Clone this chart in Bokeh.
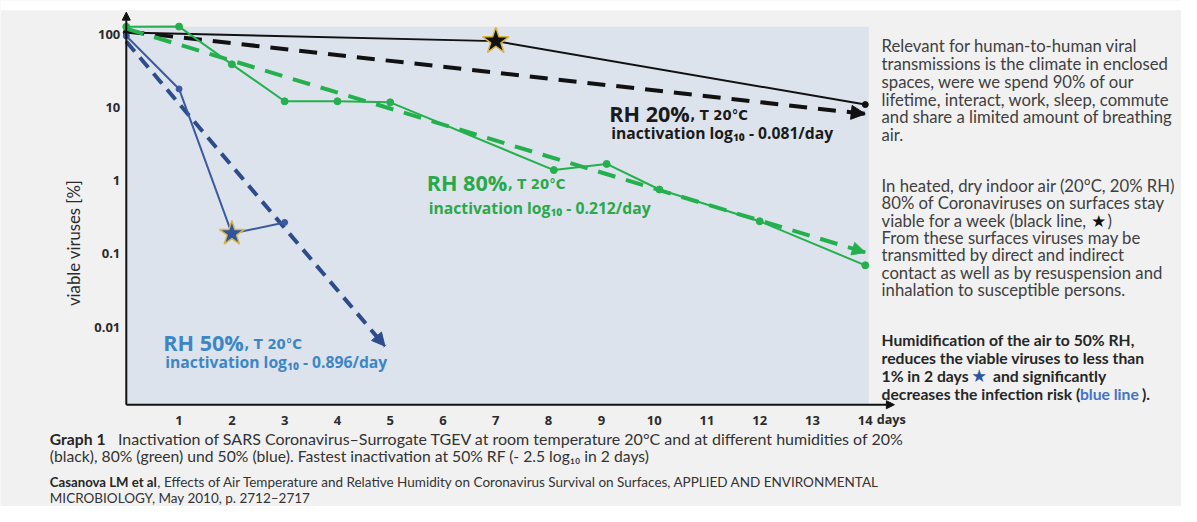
import math
from bokeh.plotting import figure
from bokeh.models import (Range1d, FixedTicker, CustomJSTickFormatter, BoxAnnotation,
                          Label, Arrow, NormalHead, LinearAxis, LogAxis)
from bokeh.embed import file_html
from bokeh.resources import INLINE

# ---------------- data ----------------
days_20 = [0, 7, 14]
viable_20 = [106, 81, 11]
trend_days_20 = [0, 14]
trend_20 = [110, 8.2]

days_80 = [0, 1, 2, 3, 4, 5, 8.1, 9.1, 10.1, 12, 14]
viable_80 = [127, 128, 39, 12.2, 12.2, 11.8, 1.4, 1.7, 0.76, 0.28, 0.07]
trend_days_80 = [0, 14]
trend_80 = [120, 0.105]

days_50 = [0, 1, 2, 3]
viable_50 = [95, 18, 0.19, 0.27]
trend_days_50 = [0, 4.9]
trend_50 = [80, 0.0055]

x_ticks = list(range(1, 15))
y_ticks = [0.01, 0.1, 1, 10, 100]
y_tick_labels = ["0.01", "0.1", "1", "10", "100"]

para1 = ["Relevant for human-to-human viral",
         "transmissions is the climate in enclosed",
         "spaces, were we spend 90% of our",
         "lifetime, interact, work, sleep, commute",
         "and share a limited amount of breathing",
         "air."]
para2 = ["In heated, dry indoor air (20°C, 20% RH)",
         "80% of Coronaviruses on surfaces stay",
         "viable for a week (black line,",
         "From these surfaces viruses may be",
         "transmitted by direct and indirect",
         "contact as well as by resuspension and",
         "inhalation to susceptible persons."]
para3 = ["Humidification of the air to 50% RH,",
         "reduces the viable viruses to less than",
         "1% in 2 days",
         "decreases the infection risk ("]

# ---------------- layout helpers (reference-pixel space) ----------------
W, H = 1181, 506
RW, RH = 1197, 522        # reference picture size
X0, DX = 127.5, 53.5      # px of day 0, px per day
Y100, DY = 35.0, 75.5     # px of 100 %, px per decade
FS = 0.98                 # font scale (canvas vs reference)


def dx(px):
    return (px - X0) / DX


def dy(py):
    return 10 ** (2 - (py - Y100) / DY)


BG = "#f1f1f1"
PLOT_BG = "#dce3ec"
BLACK = "#111111"
GREEN = "#25b04e"
GREEN_T = "#2aa84a"
BLUE_L = "#3b5a9f"
BLUE_D = "#2d4c8c"
BLUE_T = "#3d86c6"
TXT = "#404040"

p = figure(width=W, height=H, x_range=Range1d(dx(0), dx(RW)),
           y_range=Range1d(dy(RH), dy(0)), y_axis_type="log",
           x_axis_location=None, y_axis_location=None,
           output_backend="svg", toolbar_location=None, min_border=0)
p.min_border_left = p.min_border_right = p.min_border_top = p.min_border_bottom = 0
p.background_fill_color = BG
p.border_fill_color = BG
p.outline_line_color = None
p.xgrid.visible = False
p.ygrid.visible = False

AXIS_Y = dy(417)
xa = LinearAxis(fixed_location=AXIS_Y, ticker=FixedTicker(ticks=x_ticks))
ya = LogAxis(fixed_location=0, ticker=FixedTicker(ticks=y_ticks),
             formatter=CustomJSTickFormatter(code="return String(tick);"))
ya.major_label_overrides = dict(zip(y_ticks, y_tick_labels))
for ax in (xa, ya):
    ax.axis_line_color = None
    ax.major_tick_in = 0
    ax.major_tick_out = 0
    ax.minor_tick_in = 0
    ax.minor_tick_out = 0
    ax.major_label_text_font = "Open Sans"
    ax.major_label_text_font_style = "bold"
    ax.major_label_text_font_size = "13px"
    ax.major_label_text_color = "#2b2b2b"
ya.major_label_standoff = 6
xa.major_label_standoff = 11
p.add_layout(xa, "below")
p.add_layout(ya, "left")

# white strip at the very top, plot-area shading
p.add_layout(BoxAnnotation(top=dy(0), bottom=dy(10), fill_color="white",
                           fill_alpha=1, line_color=None, level="underlay"))
p.add_layout(BoxAnnotation(left=0, right=dx(880), bottom=AXIS_Y, top=dy(27),
                           fill_color=PLOT_BG, fill_alpha=1, line_color=None,
                           level="underlay"))

# axis lines with arrow heads
p.add_layout(Arrow(x_start=0, y_start=AXIS_Y, x_end=0, y_end=dy(12),
                   line_color=BLACK, line_width=2,
                   end=NormalHead(size=8, fill_color=BLACK, line_color=BLACK)))
p.add_layout(Arrow(x_start=0, y_start=AXIS_Y, x_end=dx(906), y_end=AXIS_Y,
                   line_color=BLACK, line_width=2,
                   end=NormalHead(size=8, fill_color=BLACK, line_color=BLACK)))

# ---- RH 20 % (black)
p.line(trend_days_20, trend_20, line_color=BLACK, line_width=4, line_dash="18 11")
p.add_layout(Arrow(x_start=trend_days_20[0], y_start=trend_20[0],
                   x_end=trend_days_20[-1], y_end=trend_20[-1], line_color=None,
                   end=NormalHead(size=14, fill_color=BLACK, line_color=BLACK)))
p.line(days_20, viable_20, line_color=BLACK, line_width=2)
p.scatter([days_20[0], days_20[-1]], [viable_20[0], viable_20[-1]], size=6,
          color=BLACK)
p.scatter([days_20[1]], [viable_20[1]], marker="star", size=28,
          fill_color=BLACK, line_color="#d8b64a", line_width=1.5)

# ---- RH 80 % (green)
p.line(trend_days_80, trend_80, line_color=GREEN, line_width=4, line_dash="18 11")
p.add_layout(Arrow(x_start=trend_days_80[0], y_start=trend_80[0],
                   x_end=trend_days_80[-1], y_end=trend_80[-1], line_color=None,
                   end=NormalHead(size=13, fill_color=GREEN, line_color=GREEN)))
p.line(days_80, viable_80, line_color=GREEN, line_width=2)
p.scatter(days_80, viable_80, size=7, color=GREEN)

# ---- RH 50 % (blue)
p.line(trend_days_50, trend_50, line_color=BLUE_D, line_width=4, line_dash="13 8")
p.add_layout(Arrow(x_start=trend_days_50[0], y_start=trend_50[0],
                   x_end=trend_days_50[-1], y_end=trend_50[-1], line_color=None,
                   end=NormalHead(size=13, fill_color=BLUE_D, line_color=BLUE_D)))
p.line(days_50, viable_50, line_color=BLUE_L, line_width=2)
p.scatter(days_50, viable_50, size=6, color=BLUE_L)
p.scatter([days_50[2]], [viable_50[2]], marker="star", size=26,
          fill_color="#2f55a0", line_color="#d8b64a", line_width=1.5)


def lab(text, px, py, size, color, style="normal", font="Lato", align="left",
        angle=0.0):
    p.add_layout(Label(x=dx(px), y=dy(py), text=text, text_font=font,
                       text_font_size=f"{size * FS:.1f}px", text_color=color,
                       text_font_style=style, text_align=align,
                       text_baseline="middle", angle=angle))


# series annotations
for name, sub, col, xx, yy, gap in (("RH 20%", "0.081", "#1a1a1a", 617, 117, 20),
                                    ("RH 80%", "0.212", GREEN_T, 432, 188, 26),
                                    ("RH 50%", "0.896", BLUE_T, 165, 353, 20)):
    lab(name, xx, yy, 22, col, "bold", "Open Sans")
    lab(", T 20°C", xx + 82, yy + 2, 13.5, col, "bold", "DejaVu Sans")
    lab(f"inactivation log₁₀ - {sub}/day", xx + 2, yy + gap, 16, col, "bold",
        "Open Sans")

# axis texts
lab("viable viruses [%]", 74, 250, 17, "#2b2b2b", "normal", "Lato", "center",
    math.pi / 2)
lab("days", 888, 432, 13, "#2b2b2b", "bold", "Open Sans")

# right-hand notes
for i, t in enumerate(para1):
    lab(t, 893, 47 + i * 18.4, 17, TXT)
for i, t in enumerate(para2):
    lab(t, 893, 191 + i * 18.0, 17, TXT)
lab("★", 1113, 191 + 2 * 18.0, 17, BLACK, "normal", "DejaVu Sans", "center")
lab(")", 1122, 191 + 2 * 18.0, 17, TXT)
for i, t in enumerate(para3):
    lab(t, 893, 350 + i * 18.5, 16, "#262626", "bold")
lab("★", 992, 350 + 2 * 18.5, 18, "#2f55a0", "normal", "DejaVu Sans", "center")
lab("and significantly", 1006, 350 + 2 * 18.5, 16, "#262626", "bold")
lab("blue line", 1094, 350 + 3 * 18.5, 16, "#4472c4", "bold")
lab(").", 1157, 350 + 3 * 18.5, 16, "#262626", "bold")

# caption and reference
lab("Graph 1", 50, 452, 16, "#262626", "bold")
lab("Inactivation of SARS Coronavirus–Surrogate TGEV at room temperature 20°C and at different humidities of 20%",
    119, 452, 16.3, "#333333")
lab("(black), 80% (green) und 50% (blue). Fastest inactivation at 50% RF (- 2.5 log₁₀ in 2 days)",
    50, 470, 16, "#333333")
lab("Casanova LM et al", 50, 497, 13.5, "#262626", "bold")
lab(", Effects of Air Temperature and Relative Humidity on Coronavirus Survival on Surfaces, APPLIED AND ENVIRONMENTAL",
    159, 497, 13.8, "#333333")
lab("MICROBIOLOGY, May 2010, p. 2712–2717", 50, 513, 13.8, "#333333")

open("out.html", "w").write(file_html(p, INLINE))
